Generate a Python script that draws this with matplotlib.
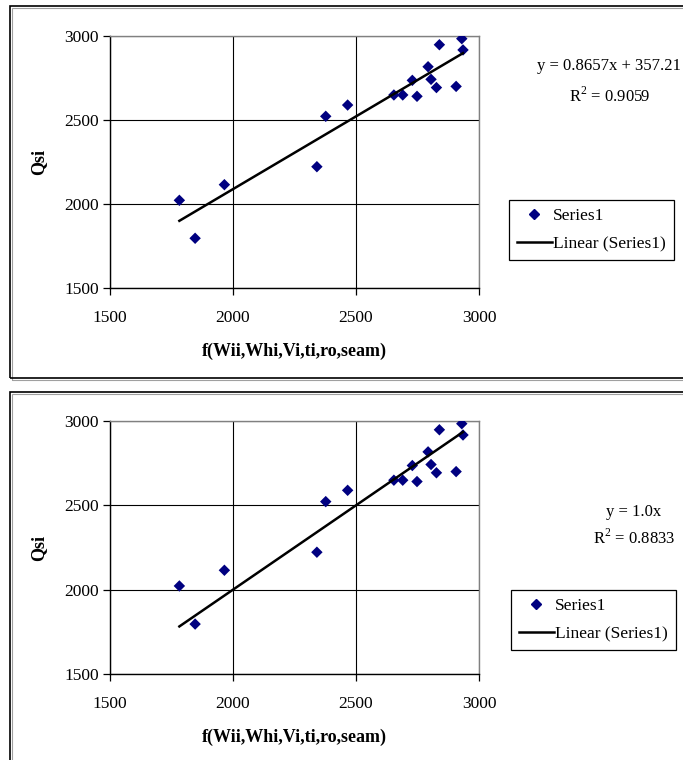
import numpy as np
import matplotlib.pyplot as plt
from matplotlib.patches import Rectangle
from matplotlib.lines import Line2D

plt.rcParams['font.family'] = ['Liberation Serif', 'DejaVu Serif']
plt.rcParams['mathtext.fontset'] = 'custom'
plt.rcParams['mathtext.rm'] = 'Liberation Serif'

# data (same points in both panels)
x_vals = [1782, 1846, 1965, 2341, 2377, 2466, 2654, 2690, 2729, 2748,
          2793, 2805, 2827, 2839, 2907, 2930, 2935]
y_vals = [2022, 1796, 2115, 2222, 2522, 2589, 2649, 2649, 2736, 2641,
          2817, 2742, 2693, 2948, 2700, 2984, 2917]

# trendlines
slopes = [0.8657, 1.0]
intercepts = [357.21, 0.0]
eq_labels = ["y = 0.8657x + 357.21", "y = 1.0x"]
r2_labels = ["R$^2$ = 0.9059", "R$^2$ = 0.8833"]

ticks = [1500, 2000, 2500, 3000]
x_label = "f(Wii,Whi,Vi,ti,ro,seam)"
y_label = "Qsi"

W, H = 683, 760
fig = plt.figure(figsize=(W / 100, H / 100), dpi=100)

def fx(px):
    return px / W

def fy(py):
    return 1 - py / H

# panel frames (top y, bottom y in pixels)
frames = [(6, 378), (392, 790)]
for top, bot in frames:
    fig.add_artist(Rectangle((fx(11.5), fy(bot + 1.5)), 2, (bot - top) / H,
                             transform=fig.transFigure, fill=False,
                             lw=0.8, ec='#a0a0a0'))
    fig.add_artist(Rectangle((fx(10), fy(bot)), 2, (bot - top) / H,
                             transform=fig.transFigure, fill=False,
                             lw=1.2, ec='black'))

axes_px = [(110, 36, 479, 288), (110, 421, 479, 674)]
eq_pos = [(609, 66, 96), (634, 512, 538)]
legend_pos = [(509, 200), (511, 590)]

for i in range(2):
    l, t, r, b = axes_px[i]
    ax = fig.add_axes([fx(l), fy(b), (r - l) / W, (b - t) / H])
    ax.scatter(x_vals, y_vals, marker='D', s=34, color='#000080',
               edgecolors='none', zorder=3)
    xs = np.array([min(x_vals), max(x_vals)])
    ax.plot(xs, slopes[i] * xs + intercepts[i], color='black', lw=1.8,
            zorder=4)
    ax.set_xlim(1500, 3000)
    ax.set_ylim(1500, 3000)
    ax.set_xticks(ticks)
    ax.set_yticks(ticks)
    ax.grid(True, color='black', lw=0.8)
    ax.set_axisbelow(True)
    for s in ['top', 'right']:
        ax.spines[s].set_color('#808080')
        ax.spines[s].set_linewidth(1.0)
    for s in ['left', 'bottom']:
        ax.spines[s].set_color('black')
        ax.spines[s].set_linewidth(1.0)
    ax.tick_params(direction='out', length=5, width=0.9, labelsize=12.5,
                   pad=3)
    ax.tick_params(axis='x', pad=11)
    ax.set_xlabel(x_label, fontsize=13, fontweight='bold', labelpad=12)
    ax.set_ylabel(y_label, fontsize=13, fontweight='bold', labelpad=12)

    ex, ey1, ey2 = eq_pos[i]
    fig.text(fx(ex), fy(ey1), eq_labels[i], ha='center', va='center',
             fontsize=12)
    fig.text(fx(ex), fy(ey2), r2_labels[i], ha='center', va='center',
             fontsize=12)

    handles = [Line2D([], [], marker='D', ls='none', color='#000080',
                      markersize=5.5),
               Line2D([], [], color='black', lw=1.8)]
    lx, ly = legend_pos[i]
    leg = ax.legend(handles, ['Series1', 'Linear (Series1)'],
                    loc='upper left', bbox_to_anchor=(fx(lx), fy(ly)),
                    bbox_transform=fig.transFigure, fontsize=12.5,
                    frameon=True, fancybox=False, edgecolor='black',
                    framealpha=1, borderaxespad=0, handlelength=2.0,
                    handletextpad=0.1, borderpad=0.45, labelspacing=0.7)
    leg.get_frame().set_linewidth(0.9)

fig.savefig('out.png', dpi=100)
